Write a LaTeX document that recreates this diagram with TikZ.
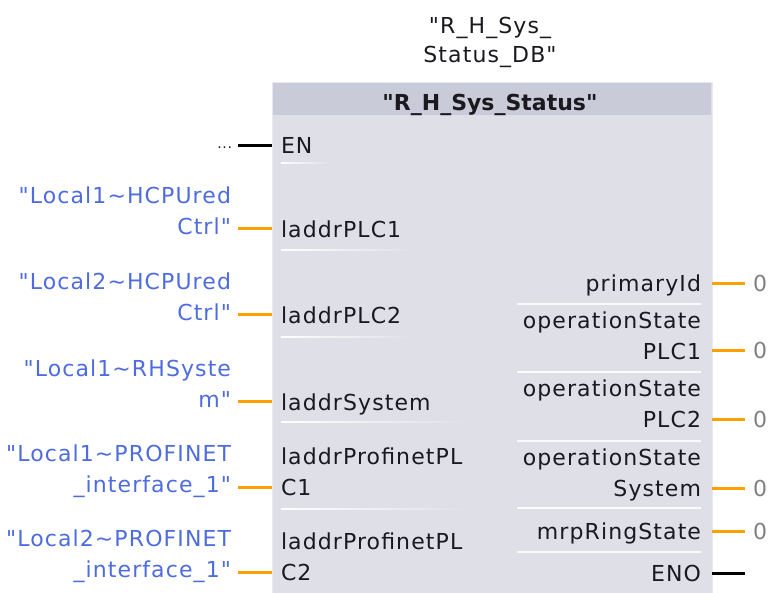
\documentclass[tikz,border=0pt]{standalone}
\usepackage{fontspec}
\newfontfamily\tiafont{DejaVu Sans}[LetterSpace=5]
\newfontfamily\tiahead{DejaVu Sans}
\usetikzlibrary{fadings}
\definecolor{boxfill}{RGB}{223,223,232}
\definecolor{boxedge}{RGB}{232,232,240}
\definecolor{hdrfill}{RGB}{201,203,217}
\definecolor{tagblue}{RGB}{78,108,222}
\definecolor{wireor}{RGB}{255,160,0}
\definecolor{zgray}{RGB}{128,128,128}
\definecolor{pindark}{RGB}{25,25,30}
\begin{document}
\begin{tikzpicture}[x=1pt,y=-1pt,
  txt/.style={font=\tiafont\fontsize{22}{31}\selectfont, inner sep=0pt, outer sep=0pt},
  tag/.style={txt, text=tagblue, align=right, anchor=base east},
  pinl/.style={txt, text=pindark, align=left, anchor=base west},
  pinr/.style={txt, text=pindark, align=right, anchor=base east},
  owire/.style={draw=wireor, line width=3pt},
  bwire/.style={draw=black, line width=3pt},
  sepl/.style={draw=white, line width=2pt, path fading=east},
  sepr/.style={draw=white, line width=2pt, opacity=0.85},
  zero/.style={txt, text=zgray, anchor=base west}]
\useasboundingbox (0,0) rectangle (770,592);
% block
\node[fill=boxfill, draw=boxedge, line width=1pt, minimum width=440pt, minimum height=530pt, anchor=north west, inner sep=0pt] (blk) at (272,82) {};
\node[fill=hdrfill, minimum width=438pt, minimum height=32pt, anchor=north, inner sep=0pt] (hdr) at (492,83) {};
\node[inner sep=0pt, font=\tiahead\fontsize{22}{31}\selectfont\bfseries, text=pindark, anchor=base] (hdrtxt) at (490,110) {"R\_H\_Sys\_Status"};
% instance DB
\node[txt, font=\tiafont\fontsize{22}{29}\selectfont, text=pindark, align=center, anchor=base] (db) at (490,62) {"R\_H\_Sys\_\\Status\_DB"};
% left pins
\node[pinl] (pEN) at (281,153) {EN};
\node[pinl] (p1) at (281,237) {laddrPLC1};
\node[pinl] (p2) at (281,323) {laddrPLC2};
\node[pinl] (p3) at (281,410) {laddrSystem};
\node[pinl] (p4) at (281,495) {laddrProfinetPL\\C1};
\node[pinl] (p5) at (281,580) {laddrProfinetPL\\C2};
% left separators
\draw[sepl] (281,163) -- (330,163);
\draw[sepl] (281,250) -- (415,250);
\draw[sepl] (281,337) -- (415,337);
\draw[sepl] (281,422) -- (470,422);
\draw[sepl] (281,509) -- (470,509);
% left tags
\node[txt, font=\tiafont\fontsize{14}{14}\selectfont, text=pindark, anchor=base east] (dots) at (232,148) {...};
\node[tag] (t1) at (231,234) {"Local1\textasciitilde HCPUred\\Ctrl"};
\node[tag] (t2) at (231,320) {"Local2\textasciitilde HCPUred\\Ctrl"};
\node[tag] (t3) at (231,407) {"Local1\textasciitilde RHSyste\\m"};
\node[tag] (t4) at (231,492) {"Local1\textasciitilde PROFINET\\\_interface\_1"};
\node[tag] (t5) at (231,577) {"Local2\textasciitilde PROFINET\\\_interface\_1"};
% left wires
\coordinate (wEN) at (238,145);
\coordinate (w1) at (238,228);
\coordinate (w2) at (238,314);
\coordinate (w3) at (238,401);
\coordinate (w4) at (238,487);
\coordinate (w5) at (238,572);
\draw[bwire] (wEN) -- (wEN -| blk.west);
\draw[owire] (w1) -- (w1 -| blk.west);
\draw[owire] (w2) -- (w2 -| blk.west);
\draw[owire] (w3) -- (w3 -| blk.west);
\draw[owire] (w4) -- (w4 -| blk.west);
\draw[owire] (w5) -- (w5 -| blk.west);
% right pins
\node[pinr] (q1) at (701,291) {primaryId};
\node[pinr] (q2) at (701,359) {operationState\\PLC1};
\node[pinr] (q3) at (701,427) {operationState\\PLC2};
\node[pinr] (q4) at (701,496) {operationState\\System};
\node[pinr] (q5) at (701,539) {mrpRingState};
\node[pinr] (qENO) at (701,581) {ENO};
% right separators
\draw[sepr] (517,304) -- (701,304);
\draw[sepr] (517,372) -- (701,372);
\draw[sepr] (517,441) -- (701,441);
\draw[sepr] (517,508) -- (701,508);
\draw[sepr] (517,552) -- (701,552);
% output values
\node[zero] (z1) at (753,291) {0};
\node[zero] (z2) at (753,358) {0};
\node[zero] (z3) at (753,427) {0};
\node[zero] (z4) at (753,496) {0};
\node[zero] (z5) at (753,539) {0};
\coordinate (o1) at (712,283);
\coordinate (o2) at (712,350);
\coordinate (o3) at (712,419);
\coordinate (o4) at (712,488);
\coordinate (o5) at (712,531);
\coordinate (oENO) at (712,573);
\coordinate (eENO) at (745,573);
\draw[owire, shorten >=8pt] (o1) -- (o1 -| z1.west);
\draw[owire, shorten >=8pt] (o2) -- (o2 -| z2.west);
\draw[owire, shorten >=8pt] (o3) -- (o3 -| z3.west);
\draw[owire, shorten >=8pt] (o4) -- (o4 -| z4.west);
\draw[owire, shorten >=8pt] (o5) -- (o5 -| z5.west);
\draw[bwire] (oENO) -- (eENO);
\end{tikzpicture}
\end{document}
